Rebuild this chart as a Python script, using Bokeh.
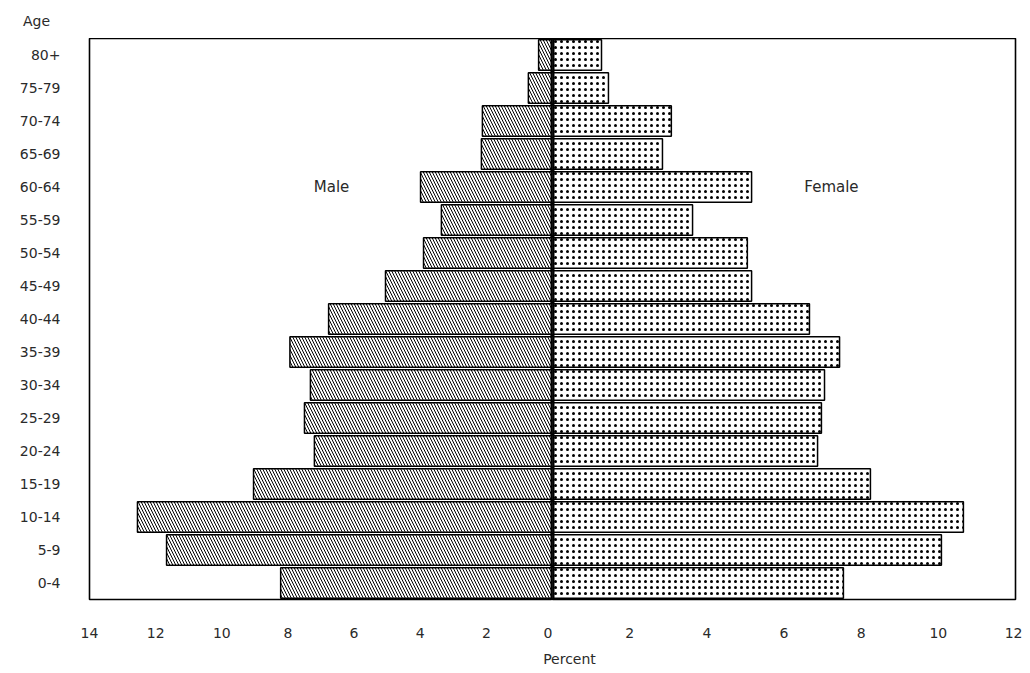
from bokeh.plotting import figure
from bokeh.models import ColumnDataSource, FactorRange, Range1d, FixedTicker, Span, Label
from bokeh.layouts import row, column
from bokeh.embed import file_html
from bokeh.resources import INLINE

ages = ["0-4", "5-9", "10-14", "15-19", "20-24", "25-29", "30-34", "35-39", "40-44",
        "45-49", "50-54", "55-59", "60-64", "65-69", "70-74", "75-79", "80+"]
male = [8.22, 11.67, 12.55, 9.04, 7.20, 7.50, 7.32, 7.94, 6.77, 5.05, 3.90, 3.36,
        3.99, 2.15, 2.12, 0.73, 0.42]
female = [7.54, 10.08, 10.65, 8.24, 6.87, 6.97, 7.05, 7.44, 6.66, 5.16, 5.05, 3.63,
          5.16, 2.85, 3.08, 1.45, 1.27]
male_ticks = [-14, -12, -10, -8, -6, -4, -2, 0]
female_ticks = [2, 4, 6, 8, 10, 12]

FONT = "DejaVu Sans"
TXT = "#2a2a2a"
TOTAL_W = 1022

src = ColumnDataSource(dict(age=ages, mleft=[-v for v in male], fright=female,
                            zero=[0] * len(ages)))
yr = FactorRange(factors=ages, range_padding=0)


def style(p):
    p.grid.visible = False
    p.outline_line_color = "black"
    p.outline_line_width = 1.6
    p.xaxis.axis_line_color = None
    p.xaxis.major_tick_line_color = None
    p.xaxis.minor_tick_line_color = None
    p.xaxis.major_label_standoff = 22
    p.xaxis.major_label_text_font = FONT
    p.xaxis.major_label_text_font_size = "14px"
    p.xaxis.major_label_text_color = TXT
    p.background_fill_color = "white"
    p.border_fill_color = "white"


def strip(h):
    s = figure(frame_width=TOTAL_W, frame_height=h, x_range=Range1d(0, TOTAL_W),
               y_range=Range1d(0, h), min_border=0, x_axis_location=None,
               y_axis_location=None, toolbar_location=None, output_backend="svg")
    s.grid.visible = False
    s.outline_line_color = None
    return s


# Top strip with the "Age" heading
p0 = strip(38)
p0.add_layout(Label(x=36, y=18, text="Age", text_align="center",
                    text_baseline="middle", text_font=FONT, text_font_size="14px",
                    text_color=TXT))

# Male (left) panel
p1 = figure(frame_width=463, frame_height=561, x_range=Range1d(-14, 0), y_range=yr,
            min_border_left=89, min_border_right=0, min_border_top=0,
            min_border_bottom=40, toolbar_location=None, output_backend="svg")
style(p1)
p1.xaxis.ticker = FixedTicker(ticks=male_ticks)
p1.xaxis.major_label_overrides = {t: str(abs(t)) for t in male_ticks}
p1.yaxis.axis_line_color = None
p1.yaxis.major_tick_line_color = None
p1.yaxis.minor_tick_line_color = None
p1.yaxis.major_label_standoff = 23
p1.yaxis.major_label_text_font = FONT
p1.yaxis.major_label_text_font_size = "14px"
p1.yaxis.major_label_text_color = TXT
p1.hbar(y="age", left="mleft", right="zero", height=0.92, source=src,
        fill_color="white", line_color="black", line_width=1.5,
        hatch_pattern="\\", hatch_color="black", hatch_scale=6, hatch_weight=1)
p1.add_layout(Span(location=0, dimension="height", line_color="black", line_width=4))
p1.add_layout(Label(x=-6.68, y=ages.index("60-64") + 0.5, text="Male",
                    text_align="center", text_baseline="middle", text_font=FONT,
                    text_font_size="15px", text_color=TXT))

# Female (right) panel
p2 = figure(frame_width=463, frame_height=561, x_range=Range1d(0, 12), y_range=yr,
            min_border_left=0, min_border_right=7, min_border_top=0,
            min_border_bottom=40, y_axis_location=None,
            toolbar_location=None, output_backend="svg")
style(p2)
p2.xaxis.ticker = FixedTicker(ticks=female_ticks)
p2.hbar(y="age", left="zero", right="fright", height=0.92, source=src,
        fill_color="white", line_color="black", line_width=1.5,
        hatch_pattern=".", hatch_color="black", hatch_scale=6, hatch_weight=1)
p2.add_layout(Span(location=0, dimension="height", line_color="black", line_width=4))
p2.add_layout(Label(x=7.23, y=ages.index("60-64") + 0.5, text="Female",
                    text_align="center", text_baseline="middle", text_font=FONT,
                    text_font_size="15px", text_color=TXT))

# Bottom strip with the axis title
p3 = strip(26)
p3.add_layout(Label(x=569, y=0, text="Percent", text_align="center",
                    text_baseline="bottom", text_font=FONT, text_font_size="14px",
                    text_color=TXT))

layout = column(p0, row(p1, p2, spacing=0), p3, spacing=0)
open("out.html", "w").write(file_html(layout, INLINE))
